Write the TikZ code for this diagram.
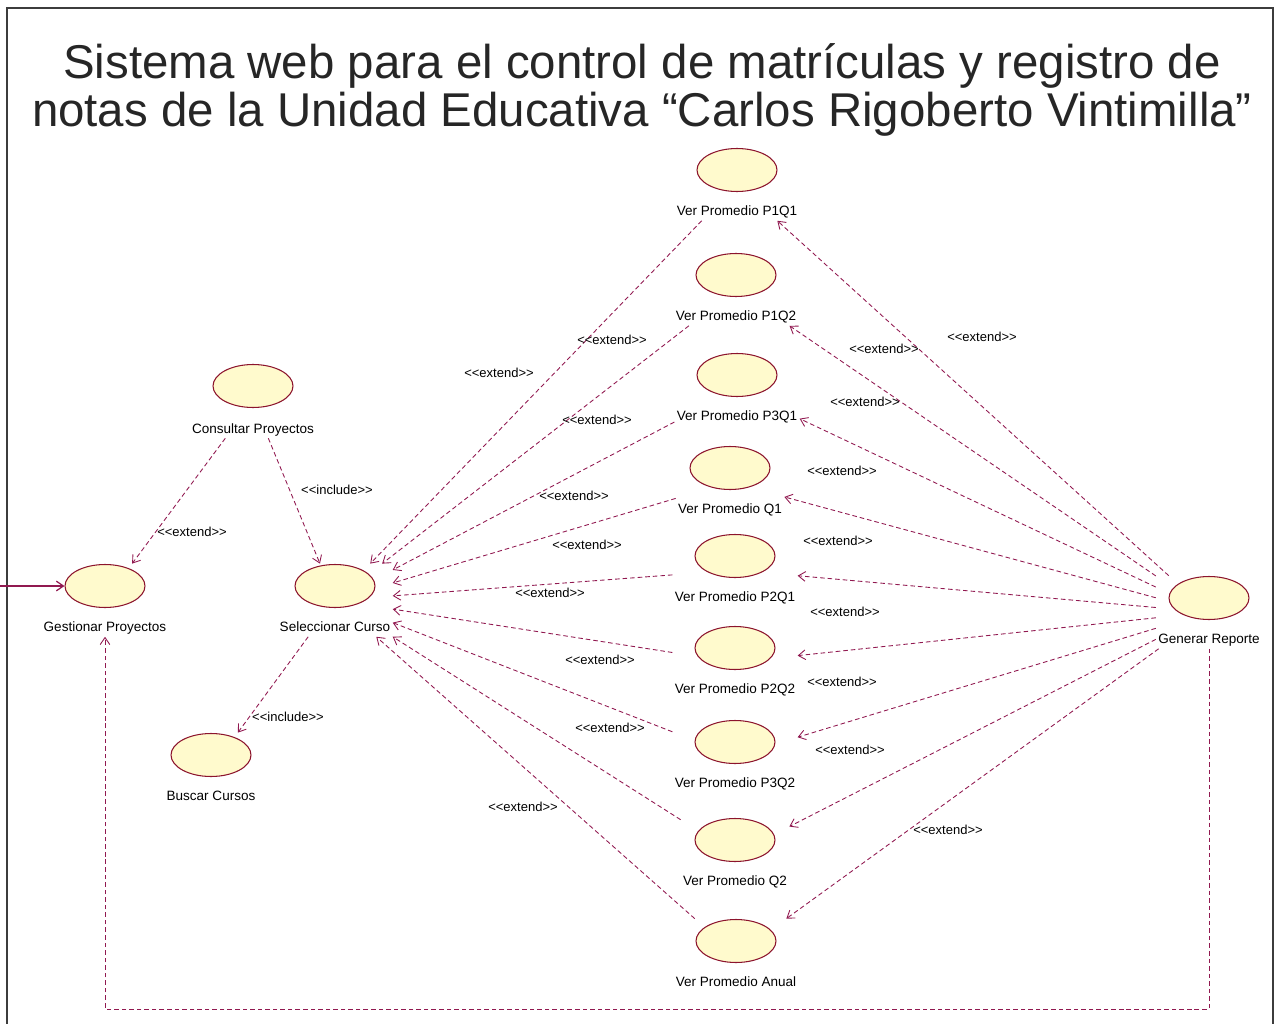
\documentclass[tikz,border=0pt]{standalone}
\usepackage{fontspec}
\setmainfont{Liberation Sans}
\usetikzlibrary{shapes.geometric, arrows.meta, positioning, fit}
\definecolor{UCFill}{RGB}{255,250,205}
\definecolor{UCLine}{RGB}{140,20,45}
\definecolor{DepLine}{RGB}{145,25,80}
\definecolor{FrameGray}{RGB}{60,60,60}
\newcommand{\umlster}[1]{<\kern0pt<#1>\kern0pt>}

\begin{document}
\begin{tikzpicture}[x=0.02cm, y=-0.02cm,
        uc/.style={ellipse,draw=UCLine,fill=UCFill,line width=0.6pt,
                   minimum width=1.6cm,minimum height=0.86cm,inner sep=0pt},
        uclab/.style={font=\fontsize{7.7}{9}\selectfont,inner sep=1pt,
                      text height=6pt,text depth=1.5pt},
        ucbox/.style={inner sep=0pt},
        ster/.style={font=\fontsize{7.4}{9}\selectfont,inner sep=1pt},
        dep/.style={DepLine,line width=0.5pt,dash pattern=on 2.6pt off 1.7pt,
                    -{Straight Barb[length=4pt,width=5.5pt]}},
        assoc/.style={DepLine,line width=0.7pt,-{Straight Barb[length=4pt,width=5.5pt]}}]
        \useasboundingbox (0,0) rectangle (1278,1024);
        \draw[FrameGray,line width=1pt] (7,8) rectangle (1273,1045);

        \node[align=center,font=\fontsize{27}{27.2}\selectfont,text=black!85] (title) at (642,90)
             {Sistema web para el control de matrículas y registro de\\
              notas de la Unidad Educativa “Carlos Rigoberto Vintimilla”};

        % Use cases on the left
        \node[uc] (consultar) at (253,386) {};
        \node[uclab,below=0.25cm of consultar] (consultar-t) {Consultar Proyectos};
        \node[uc] (gestionar) at (105,586) {};
        \node[uclab,below=0.22cm of gestionar] (gestionar-t) {Gestionar Proyectos};
        \node[uc] (seleccionar) at (335,586) {};
        \node[uclab,below=0.22cm of seleccionar] (seleccionar-t) {Seleccionar Curso};
        \node[uc] (buscar) at (211,755) {};
        \node[uclab,below=0.22cm of buscar] (buscar-t) {Buscar Cursos};
        \node[uc] (generar) at (1209,598) {};
        \node[uclab,below=0.22cm of generar] (generar-t) {Generar Reporte};
        \foreach \n in {consultar,gestionar,seleccionar,buscar,generar}
            \node[ucbox,fit=(\n)(\n-t)] (\n-b) {};

        % Column of averages
        \foreach \n/\x/\y/\t in {p1q1/737/170/Ver Promedio P1Q1, p1q2/736/275/Ver Promedio P1Q2,
                p3q1/737/375/Ver Promedio P3Q1, q1/730/468/Ver Promedio Q1,
                p2q1/735/556/Ver Promedio P2Q1, p2q2/735/648/Ver Promedio P2Q2,
                p3q2/735/742/Ver Promedio P3Q2, q2/735/840/Ver Promedio Q2,
                anual/736/941/Ver Promedio Anual} {
            \node[uc] (\n) at (\x,\y) {};
            \node[uclab,below=0.22cm of \n] (\n-t) {\t};
            \node[ucbox,fit=(\n)(\n-t)] (\n-b) {};
        }

        % Actor association
        \coordinate (actor) at (0,586);
        \draw[assoc] (actor) -- (gestionar.west);

        \draw[dep] (consultar-b) -- (gestionar-b);
        \node[ster] (cg) at (192,532) {\umlster{extend}};
        \draw[dep] (consultar-b) -- (seleccionar-b);
        \node[ster] (cs) at (337,490) {\umlster{include}};
        \draw[dep] (seleccionar-b) -- (buscar-b);
        \node[ster] (sb) at (288,717) {\umlster{include}};

        \foreach \n/\ax/\ay/\bx/\by in {p1q1/499/373/982/337, p1q2/612/340/884/349,
                p3q1/597/420/865/402, q1/574/496/842/471, p2q1/587/545/838/541,
                p2q2/550/593/845/612, p3q2/600/660/842/682, q2/610/728/850/750,
                anual/523/807/948/830} {
            \draw[dep] (\n-b) -- (seleccionar-b);
            \draw[dep] (generar-b) -- (\n-b);
            \node[ster] (\n-xs) at (\ax,\ay) {\umlster{extend}};
            \node[ster] (\n-xg) at (\bx,\by) {\umlster{extend}};
        }

        % Return line to Gestionar Proyectos
        \coordinate (bot) at (0,1009);
        \draw[dep] (generar-b) -- (generar-b |- bot) -| (gestionar-b);
\end{tikzpicture}
\end{document}
